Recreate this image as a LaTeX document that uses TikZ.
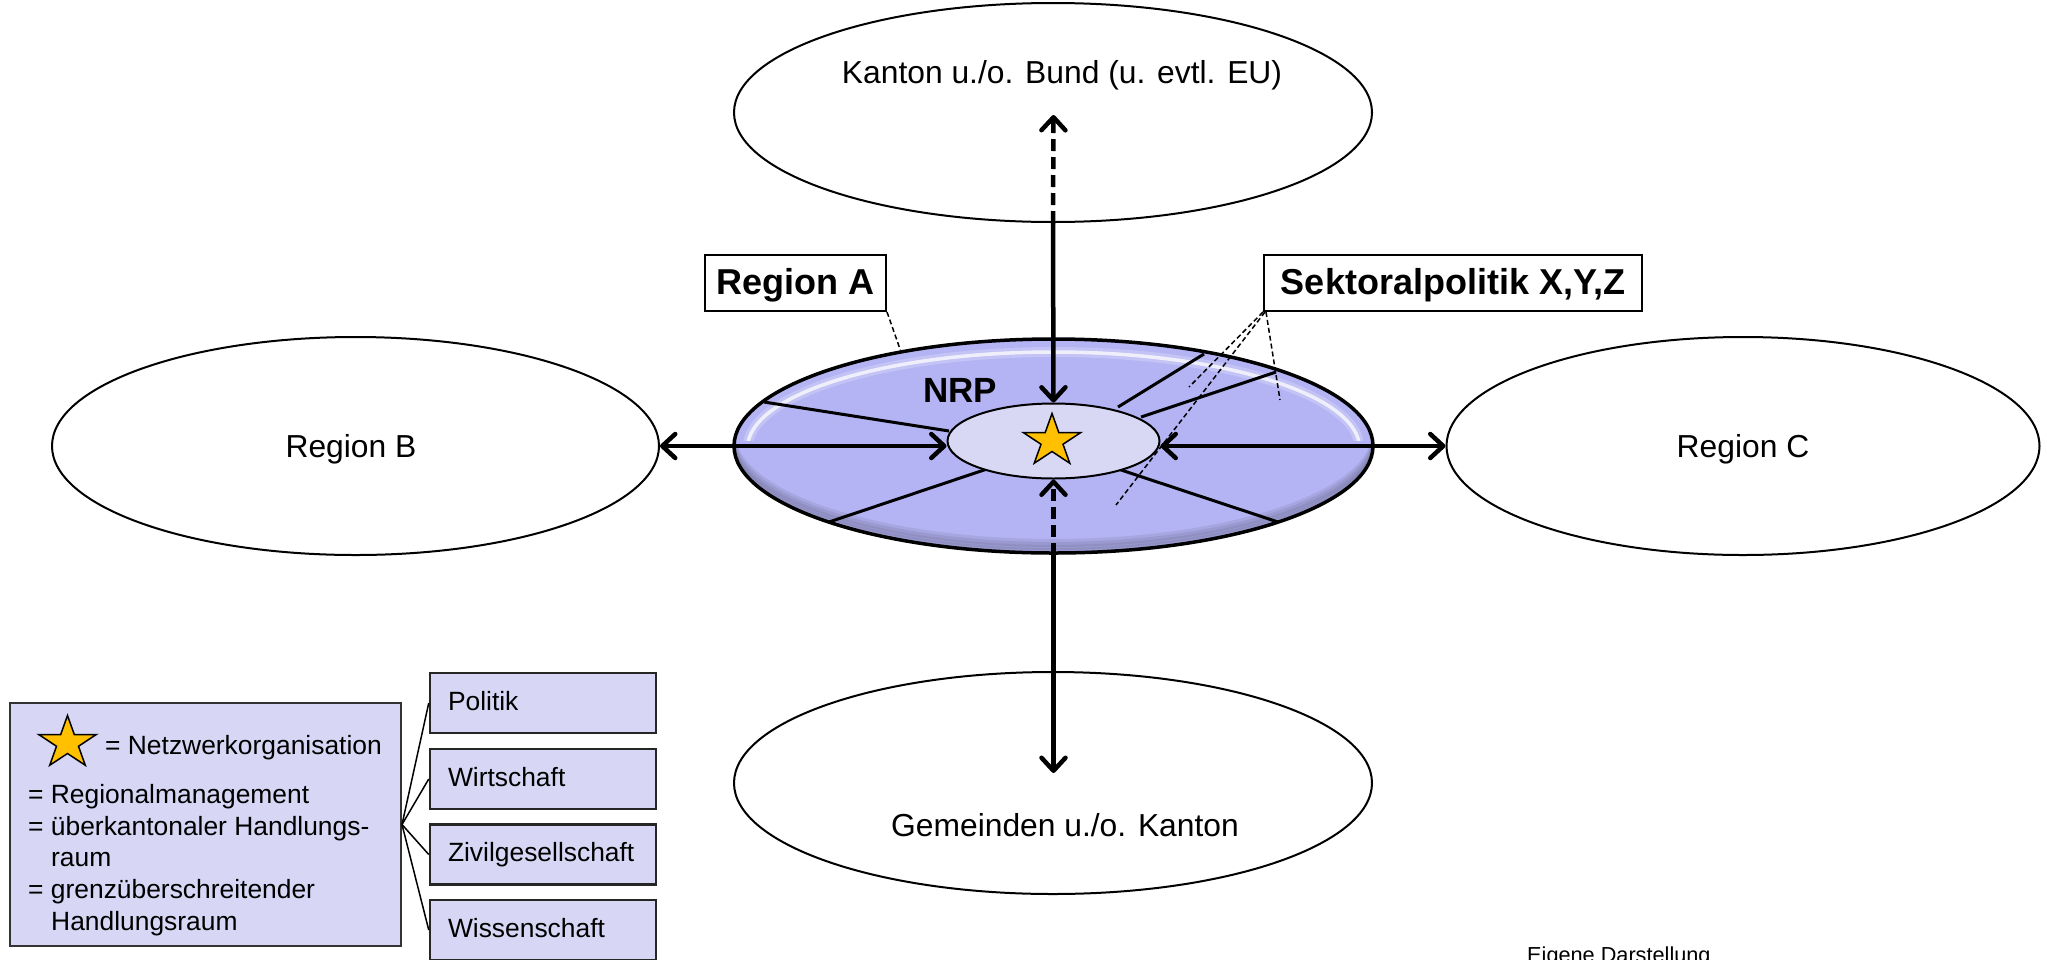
\documentclass[tikz,border=0pt]{standalone}
\usepackage{fontspec}
\setmainfont{Liberation Sans}
\usetikzlibrary{arrows.meta,shapes.geometric}
\definecolor{cA}{RGB}{180,180,244}
\definecolor{cIn}{RGB}{216,216,245}
\definecolor{cLeg}{RGB}{215,215,245}
\definecolor{cGold}{RGB}{255,192,0}
\newcommand\lgfont{\fontsize{26.4pt}{32pt}\selectfont}
\newcommand\bigfont{\fontsize{31.8pt}{38pt}\selectfont}
\newcommand\boldfont{\fontsize{36pt}{42pt}\selectfont\bfseries}
\begin{document}
\begin{tikzpicture}[x=1pt,y=-1pt,
  wellipse/.style={ellipse, draw, line width=2pt, fill=white, inner sep=0pt},
  arrline/.style={line width=4.5pt},
  dashline/.style={line width=1.5pt, dash pattern=on 5pt off 3pt},
  spoke/.style={line width=3pt},
  labbox/.style={draw, line width=2pt, fill=white, inner sep=0pt, font=\boldfont, text height=26pt, text depth=4pt},
  catbox/.style={draw=black!85, line width=2.5pt, fill=cLeg, minimum height=60pt, text width=190pt, align=left, inner xsep=18pt, text height=19pt, text depth=5pt, font=\lgfont},
  legtext/.style={anchor=base west, inner sep=0pt, font=\lgfont},
  >={Straight Barb[round,length=13pt,width=24pt]},
  starshape/.pic={\draw[fill=cGold, line width=1.5pt, line join=miter, xscale=1.1]
     (-90:27.5) -- (-54:10.5) -- (-18:27.5) -- (18:10.5) -- (54:27.5) -- (90:10.5)
     -- (126:27.5) -- (162:10.5) -- (198:27.5) -- (234:10.5) -- cycle;}
]
\useasboundingbox (0,0) rectangle (2047,959);

% outer ellipses
\node[wellipse, minimum width=638pt, minimum height=219pt] (top) at (1053,112.5) {};
\node[wellipse, minimum width=638pt, minimum height=222pt] (bot) at (1053,783) {};
\node[wellipse, minimum width=607pt, minimum height=218pt] (regB) at (355.5,446) {};
\node[wellipse, minimum width=593pt, minimum height=218pt] (regC) at (1743,446) {};

\node[anchor=base, font=\bigfont, inner sep=0pt] (tTop) at (1062,83) {Kanton u./o. Bund (u. evtl. EU)};
\node[anchor=base, font=\bigfont, inner sep=0pt] (tBot) at (1065,836) {Gemeinden u./o. Kanton};
\node[anchor=base, font=\bigfont, inner sep=0pt] (tB) at (351,457) {Region B};
\node[anchor=base, font=\bigfont, inner sep=0pt] (tC) at (1743,457) {Region C};

% central ellipse (Region A)
\coordinate (cc) at (1053.5,446);
\begin{scope}
  \clip (cc) ellipse [x radius=319.5, y radius=107];
  \fill[cA] (cc) ellipse [x radius=319.5, y radius=107];
  \foreach \s in {3,6,9,12}
    \draw[line width=8pt, color=cA!45!black, opacity=0.14] ([yshift=\s pt]cc) ellipse [x radius=322, y radius=109];
  \begin{scope}
    \clip (700,330) rectangle (1400,440);
    \draw[white, line width=10pt, opacity=0.2] ([yshift=-2pt]cc) ellipse [x radius=306, y radius=96];
    \draw[white, line width=3.5pt, opacity=0.75] ([yshift=-2pt]cc) ellipse [x radius=306, y radius=96];
  \end{scope}
\end{scope}

% spokes
\draw[spoke] (764,402) -- (949,431);
\draw[spoke] (829,522) -- (987,469);
\draw[spoke] (1118,407) -- (1204,354);
\draw[spoke] (1141,417) -- (1276,372);
\draw[spoke] (1118,469) -- (1278,522);

\node[ellipse, draw, line width=3.5pt, minimum width=639pt, minimum height=214pt, inner sep=0pt] (regA) at (cc) {};
\node[ellipse, draw, line width=2pt, fill=cIn, minimum width=212pt, minimum height=75pt, inner sep=0pt] (inner) at (1053.5,441) {};
\pic at (1052,441) {starshape};

\node[anchor=base, font=\fontsize{35pt}{40pt}\selectfont\bfseries, inner sep=0pt] (nrp) at (960,402) {NRP};

% arrows
\coordinate (tipT) at (1053.5,115);
\coordinate (tipB) at (1053.5,773);
\draw[arrline, dash pattern=on 12pt off 6pt, ->] (top.south) -- (tipT);
\draw[arrline, ->] (top.south) -- (inner.north);
\draw[arrline, dash pattern=on 12pt off 6pt, ->] (regA.south) -- (inner.south);
\draw[arrline, ->] (regA.south) -- (tipB);
\draw[arrline, <->] (regB.east) -- (regB.east -| inner.west);
\draw[arrline, <->] (inner.east |- regC.west) -- (regC.west);

% label boxes
\node[labbox, minimum width=181pt, minimum height=56pt] (ra) at (795.5,283) {Region A};
\node[labbox, minimum width=378pt, minimum height=56pt] (sek) at (1453,283) {Sektoralpolitik X,Y,Z};
\coordinate (s1) at (1189,387);
\coordinate (s2) at (1116,505);
\coordinate (s3) at (1280,400);
\draw[dashline] (ra.south east) -- (regA.148.3);
\draw[dashline] (sek.south west) -- (s1);
\draw[dashline] ([xshift=2pt]sek.south west) -- (s2);
\draw[dashline] ([xshift=3pt]sek.south west) -- (s3);

% legend
\node[draw=black!80, line width=2pt, fill=cLeg, minimum width=391pt, minimum height=243pt, inner sep=0pt] (leg) at (205.5,824.5) {};
\pic at (67.5,743) {starshape};
\node[legtext] (l1) at (105,754) {= Netzwerkorganisation};
\node[legtext] (l2) at (28,803) {= Regionalmanagement};
\node[legtext] (l3) at (28,835) {= überkantonaler Handlungs-};
\node[legtext] (l4) at (51,866) {raum};
\node[legtext] (l5) at (28,898) {= grenzüberschreitender};
\node[legtext] (l6) at (51,930) {Handlungsraum};

\node[catbox] (pol) at (543,703) {Politik};
\node[catbox] (wir) at (543,779) {Wirtschaft};
\node[catbox] (ziv) at (543,854.5) {Zivilgesellschaft};
\node[catbox] (wis) at (543,930) {Wissenschaft};
\foreach \b in {pol,wir,ziv,wis} \draw[line width=1.5pt] (leg.east) -- (\b.west);

\node[anchor=base west, inner sep=0pt, font=\fontsize{21.7pt}{26pt}\selectfont] (src) at (1527,962) {Eigene Darstellung};
\end{tikzpicture}
\end{document}
